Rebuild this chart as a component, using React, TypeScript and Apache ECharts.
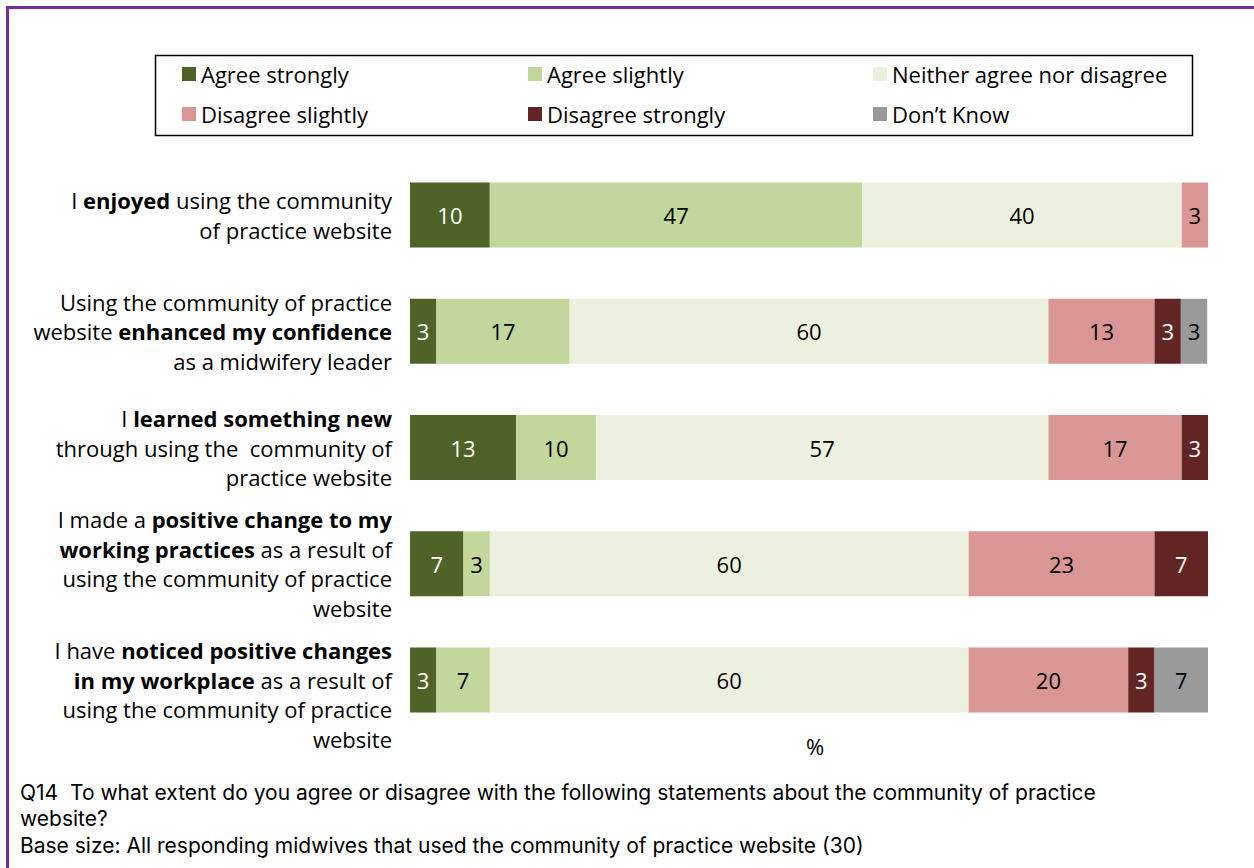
import React, { useEffect, useRef } from "react";
import * as echarts from "echarts";

const categories = [
  "I {b|enjoyed} using the community\nof practice website",
  "Using the community of practice\nwebsite {b|enhanced my confidence}\nas a midwifery leader",
  "I {b|learned something new}\nthrough using the  community of\npractice website",
  "I made a {b|positive change to my}\n{b|working practices} as a result of\nusing the community of practice\nwebsite",
  "I have {b|noticed positive changes}\n{b|in my workplace} as a result of\nusing the community of practice\nwebsite",
];

const seriesNames = [
  "Agree strongly",
  "Agree slightly",
  "Neither agree nor disagree",
  "Disagree slightly",
  "Disagree strongly",
  "Don\u2019t Know",
];

const agreeStrongly = [10, 3.3, 13.3, 6.7, 3.3];
const agreeSlightly = [46.7, 16.7, 10, 3.3, 6.7];
const neither = [40, 60, 56.7, 60, 60];
const disagreeSlightly = [3.3, 13.3, 16.7, 23.3, 20];
const disagreeStrongly = [0, 3.3, 3.3, 6.7, 3.3];
const dontKnow = [0, 3.3, 0, 0, 6.7];

const seriesValues = [agreeStrongly, agreeSlightly, neither, disagreeSlightly, disagreeStrongly, dontKnow];
const colors = ["#4F6228", "#C3D69B", "#EBF1DE", "#D99694", "#632523", "#9A9A9A"];
const labelColors = ["#ffffff", "#000000", "#000000", "#000000", "#ffffff", "#000000"];

const footnoteLines = [
  "Q14  To what extent do you agree or disagree with the following statements about the community of practice",
  "website?",
  "Base size: All responding midwives that used the community of practice website (30)",
];

const FONT = "'Open Sans', sans-serif";
const NOTE_FONT = "Inter, 'Open Sans', sans-serif";
const FS = 22;

export default function App() {
  const ref = useRef<HTMLDivElement>(null);
  useEffect(() => {
    if (!ref.current) return;
    const chart = echarts.init(ref.current, undefined, { renderer: "svg" });
    const legendPos = [
      { left: 182, top: 63 },
      { left: 528, top: 63 },
      { left: 873, top: 63 },
      { left: 182, top: 103 },
      { left: 528, top: 103 },
      { left: 873, top: 103 },
    ];
    chart.setOption({
      animation: false,
      textStyle: { fontFamily: FONT },
      grid: { left: 410, right: 46, top: 157, bottom: 130, containLabel: false },
      legend: seriesNames.map((n, i) => ({
        data: [n],
        left: legendPos[i].left,
        top: legendPos[i].top,
        padding: 0,
        itemWidth: 14,
        itemHeight: 14,
        icon: "rect",
        selectedMode: false,
        textStyle: { fontSize: FS, color: "#000", fontFamily: FONT },
      })),
      xAxis: {
        type: "value",
        min: 0,
        max: 100,
        show: false,
      },
      yAxis: {
        type: "category",
        data: categories,
        inverse: true,
        axisLine: { show: false },
        axisTick: { show: false },
        axisLabel: {
          interval: 0,
          hideOverlap: false,
          margin: 18,
          fontSize: FS,
          lineHeight: 29.5,
          color: "#000",
          fontFamily: FONT,
          align: "right",
          formatter: (v: string, i: number) => (i === 4 ? "\n" + v : v),
          rich: {
            b: { fontWeight: "bold", fontSize: FS, lineHeight: 29.5, color: "#000", fontFamily: FONT },
          },
        },
      },
      series: seriesNames.map((n, i) => ({
        name: n,
        type: "bar",
        stack: "total",
        barWidth: 65,
        itemStyle: { color: colors[i] },
        label: {
          show: true,
          position: "inside",
          fontSize: FS,
          fontFamily: FONT,
          color: labelColors[i],
          formatter: (p: any) => (p.value ? String(Math.round(p.value)) : ""),
        },
        data: seriesValues[i],
      })),
      graphic: [
        {
          type: "rect",
          shape: { x: 7.5, y: 7.5, width: 1400, height: 1000 },
          style: { fill: "none", stroke: "#7030A0", lineWidth: 3 },
          silent: true,
        },
        {
          type: "rect",
          shape: { x: 155.5, y: 55.5, width: 1037, height: 80 },
          style: { fill: "none", stroke: "#000", lineWidth: 1.5 },
          silent: true,
          z: -1,
        },
        {
          type: "text",
          x: 815,
          y: 746,
          style: { text: "%", fontSize: FS, fontFamily: FONT, fill: "#000", textAlign: "center", textVerticalAlign: "middle" },
        },
        ...footnoteLines.map((t, i) => ({
          type: "text",
          x: 20,
          y: 792 + i * 26.5,
          style: { text: t, fontSize: 21, fontFamily: NOTE_FONT, fill: "#000", textAlign: "left", textVerticalAlign: "middle" },
        })),
      ],
    });
    return () => chart.dispose();
  }, []);
  return (
    <div
      ref={ref}
      style={{ position: "fixed", left: 0, top: 0, width: 1254, height: 868, background: "#fff" }}
    />
  );
}
